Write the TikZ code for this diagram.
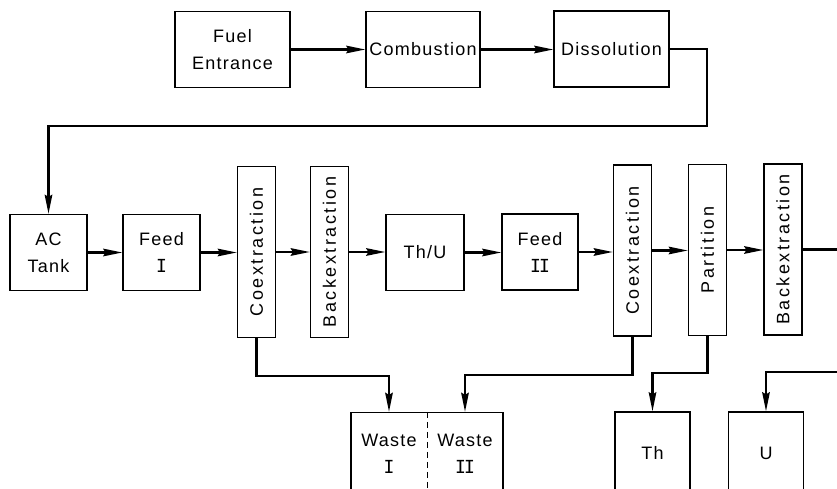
\documentclass[tikz,border=0pt]{standalone}
\usepackage{fontspec}
\setmainfont{Liberation Sans}[LetterSpace=7]
\newfontfamily\vfont{Liberation Sans}[LetterSpace=14]
\newfontfamily\romnum{DejaVu Sans Mono}
\usetikzlibrary{arrows.meta}

\newcommand\uplabel[1]{\rotatebox{90}{\vfont #1}}

\tikzset{
  lbl/.style={inner sep=0pt, align=center, font=\fontsize{18}{27}\selectfont},
  box/.style={lbl, draw, line width=1.4pt},
  wide/.style={box, minimum width=#1, minimum height=76pt},
  tall/.style={box, minimum width=38pt, minimum height=171pt},
  sink/.style={box, minimum width=75pt, minimum height=82pt},
  link/.style={line width=2.2pt},
  flow/.style={link, -{Stealth[length=19pt, width=7.5pt, inset=2pt]}},
}

\begin{document}
\begin{tikzpicture}[x=1pt, y=-1pt]
  \useasboundingbox (0,0) rectangle (837,489);
  \clip (0,0) rectangle (837,489);

  % head end
  \node[wide=115pt] (fuel) at (232.5,49.5) {Fuel\\Entrance};
  \node[wide=114pt] (comb) at (423,49.5)   {Combustion};
  \node[wide=115pt] (diss) at (611.5,49)   {Dissolution};

  % extraction line
  \node[wide=77pt] (ac)    at (48.5,252.5)  {AC\\Tank};
  \node[wide=77pt] (feed1) at (161.5,252.5) {Feed\\{\romnum I}};
  \node[tall] (coex1) at (256.5,252) {\uplabel{Coextraction}};
  \node[tall] (back1) at (329.5,252) {\uplabel{Backextraction}};
  \node[wide=78pt] (thu)   at (425,252.5)   {Th/U};
  \node[wide=76pt] (feed2) at (540,252)     {Feed\\{\romnum I\kern-2pt I}};
  \node[tall] (coex2) at (632.5,250.5) {\uplabel{Coextraction}};
  \node[tall] (part)  at (707.5,250)   {\uplabel{Partition}};
  \node[tall] (back2) at (783,249.5)   {\uplabel{Backextraction}};

  % products and waste
  \node[box, minimum width=152pt, minimum height=82pt] (waste) at (427,453.5) {};
  \node[lbl] (w1) at (389,453.5) {Waste\\{\romnum I}};
  \node[lbl] (w2) at (465,453.5) {Waste\\{\romnum I\kern-2pt I}};
  \draw[line width=1pt, dash pattern=on 6pt off 4pt] (waste.north) -- (waste.south);
  \node[sink] (th) at (652.5,453) {Th};
  \node[sink] (u)  at (766,453)   {U};

  % connectors, head end
  \draw[flow] (fuel.east) -- (fuel.east -| comb.west);
  \draw[flow] (comb.east) -- (comb.east -| diss.west);
  \coordinate (loop) at (707,126);
  \draw[flow] (diss.east) -| (loop) -| (ac.north);

  % connectors, extraction line
  \draw[flow] (ac.east)    -- (ac.east -| feed1.west);
  \draw[flow] (feed1.east) -- (feed1.east -| coex1.west);
  \draw[flow] (coex1.east) -- (coex1.east -| back1.west);
  \draw[flow] (back1.east) -- (back1.east -| thu.west);
  \draw[flow] (thu.east)   -- (thu.east -| feed2.west);
  \draw[flow] (feed2.east) -- (feed2.east -| coex2.west);
  \draw[flow] (coex2.east) -- (coex2.east -| part.west);
  \draw[flow] (part.east)  -- (part.east -| back2.west);
  \coordinate (exitR) at (845,249.5);
  \draw[link] (back2.east) -- (exitR);

  % connectors, outlets
  \draw[flow] (coex1.south) -- ++(0,38) -| (waste.north -| w1);
  \draw[flow] (coex2.south) -- ++(0,38) -| (waste.north -| w2);
  \draw[flow] (part.south)  -- ++(0,37) -| (th.north);
  \coordinate (uin) at (845,372);
  \draw[flow] (uin) -| (u.north);
\end{tikzpicture}
\end{document}
